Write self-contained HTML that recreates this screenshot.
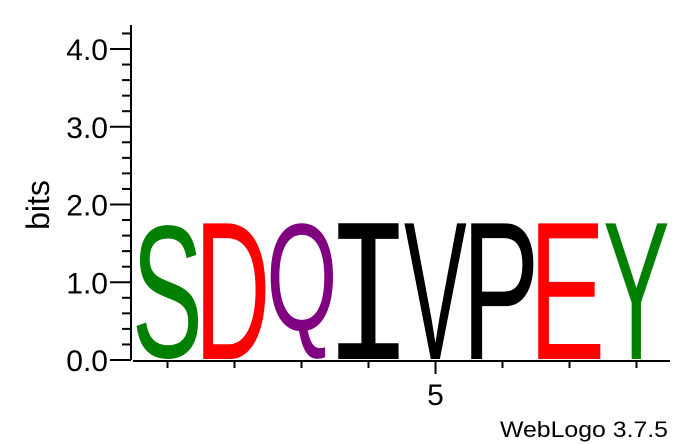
<!DOCTYPE html>
<html><head><meta charset="utf-8"><style>
html,body{margin:0;padding:0;background:#fff;}
svg{display:block;font-family:"Liberation Sans",Arial,sans-serif;}
</style></head><body>
<svg id="chart" width="694" height="444" viewBox="0 0 694 444"></svg>
<script>
const letters = ["S","D","Q","I","V","P","E","Y"];
const heights = [1.75,1.75,1.75,1.75,1.75,1.75,1.75,1.75];
const colors = ["#008000","#ff0000","#800080","#000000","#000000","#000000","#ff0000","#008000"];
const yTicks = [0,1,2,3,4];
const yTickLabels = ["0.0","1.0","2.0","3.0","4.0"];
const xLabeled = [5];

const NS="http://www.w3.org/2000/svg";
const svg=document.getElementById('chart');
const x0=134, colW=67, yBase=360, pxPerBit=77.75, axisX=131;
const yS=v=>yBase-v*pxPerBit;
const xC=i=>x0+colW*i+colW/2;
function mk(t,a){const e=document.createElementNS(NS,t);for(const k in a)e.setAttribute(k,a[k]);svg.appendChild(e);return e;}
const cv=document.createElement('canvas').getContext('2d');

// letters
letters.forEach((L,i)=>{
  const h=heights[i]*pxPerBit;
  const fs=100;
  const fam = L==='I' ? '"Liberation Mono", monospace' : '"Liberation Sans", Arial, sans-serif';
  cv.font=fs+'px '+fam;
  const m=cv.measureText(L);
  const inkW=m.actualBoundingBoxLeft+m.actualBoundingBoxRight;
  const inkH=m.actualBoundingBoxAscent+m.actualBoundingBoxDescent;
  const boxW=colW-4;
  const sx=boxW/inkW, sy=h/inkH;
  const tx=x0+colW*i+2 + m.actualBoundingBoxLeft*sx;
  const ty=yBase-1 - m.actualBoundingBoxDescent*sy;
  const g=mk('g',{transform:`translate(${tx},${ty}) scale(${sx},${sy})`});
  
  
  const t=document.createElementNS(NS,'text');
  t.setAttribute('x',0);t.setAttribute('y',0);
  t.setAttribute('font-size',fs);
  t.setAttribute('font-family',fam);
  t.setAttribute('fill',colors[i]);
  t.textContent=L;g.appendChild(t);
});

// y axis
const ya=mk('line',{x1:axisX,y1:yS(0),x2:axisX,y2:25,stroke:'#000','stroke-width':2});


for(let k=0;k<=21;k++){
  const v=k*0.2;
  const major=k%5===0;
  const ln=mk('line',{x1:major?110:122,x2:axisX,y1:yS(v),y2:yS(v),stroke:'#000','stroke-width':2});
  
  
}
yTicks.forEach((v,i)=>{
  const t=mk('text',{x:108,y:yS(v)+11,'font-size':30,'text-anchor':'end',fill:'#000'});
  
  
  t.textContent=yTickLabels[i];
});
const yt=mk('text',{x:0,y:0,'font-size':32,'text-anchor':'middle',transform:`translate(49,205) rotate(-90)`});


yt.textContent='bits';

// x axis
const xa=mk('line',{x1:133,x2:670,y1:yBase+1,y2:yBase+1,stroke:'#000','stroke-width':2});


letters.forEach((L,i)=>{
  const lab=xLabeled.includes(i+1);
  const ln=mk('line',{x1:xC(i),x2:xC(i),y1:yBase+1,y2:yBase+(lab?14:8),stroke:'#000','stroke-width':2});
  
  
  if(lab){
    const t=mk('text',{x:xC(i),y:yBase+45,'font-size':30,'text-anchor':'middle'});
    
    
    t.textContent=String(i+1);
  }
});
const c=mk('text',{x:500,y:437,'font-size':22,textLength:168,lengthAdjust:'spacingAndGlyphs'});


c.textContent='WebLogo 3.7.5';
</script>
</body></html>
